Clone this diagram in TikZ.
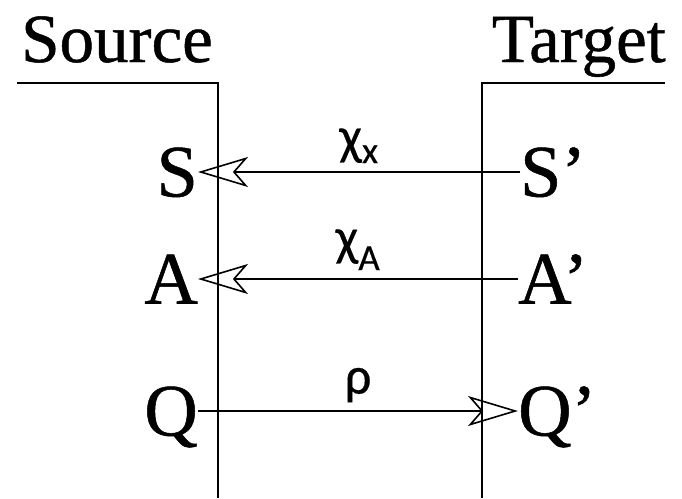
\documentclass[tikz,border=0pt]{standalone}
\usepackage{fontspec}
\setmainfont{Liberation Serif}
\newfontfamily\heavyserif{Liberation Serif}[FakeBold=0.7]
\newfontfamily\lblfont{Carlito}[FakeBold=0.4]
\usetikzlibrary{arrows.meta}

\begin{document}
\begin{tikzpicture}[x=1pt, y=-1pt,
  header/.style={font=\heavyserif\fontsize{69}{72}\selectfont, inner sep=0pt},
  letter/.style={font=\heavyserif\fontsize{74}{78}\selectfont, inner sep=0pt, text height=49pt, text depth=0pt},
  border/.style={line width=2.4pt},
  map/.style={line width=1.7pt, -{Stealth[open, length=50pt, width=30pt, inset=13pt, line width=1.6pt]}},
  maplabel/.style={font=\lblfont\fontsize{53}{56}\selectfont, inner sep=0pt, above=8pt}]
  \useasboundingbox (0,0) rectangle (682,498);
  % --- headers and borders ---
  \node[header, anchor=base west] (src) at (21,62) {Source};
  \node[header, anchor=base east] (tgt) at (666,62) {Target};
  \draw[border] (17,83) -- (218,83) -- (218,498);
  \draw[border] (665,83) -- (482,83) -- (482,498);
  % --- source side ---
  \node[letter, anchor=east] (s) at (198,172) {S};
  \node[letter, anchor=east] (a) at (198,279) {A};
  \node[letter, anchor=east] (q) at (198,411) {Q};
  % --- target side ---
  \node[letter, anchor=west] (sp) at (520,172) {S’};
  \node[letter, anchor=west] (ap) at (518,279) {A’};
  \node[letter, anchor=west] (qp) at (518,411) {Q’};
  % --- maps ---
  \draw[map] (sp) -- (s) node[midway, maplabel] {χ\textsubscript{x}};
  \draw[map] (ap) -- (a) node[midway, maplabel] {χ\textsubscript{A}};
  \draw[map] (q) -- (qp) node[midway, maplabel] {ρ};
\end{tikzpicture}
\end{document}
